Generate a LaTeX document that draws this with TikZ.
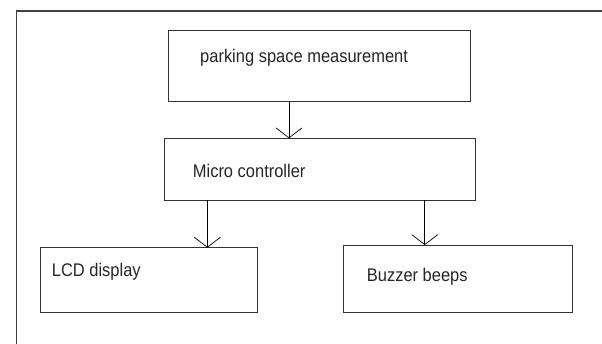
\documentclass[tikz,border=0pt]{standalone}
\usepackage{fontspec}
\setmainfont{Liberation Sans}[FakeStretch=0.9]
\usetikzlibrary{arrows.meta}
\begin{document}
\begin{tikzpicture}[x=1pt,y=-1pt,
  blk/.style={draw=black!80,line width=1pt,rectangle,inner sep=0pt,outer sep=0pt},
  lbl/.style={anchor=base west,inner sep=0pt,font=\fontsize{18.3}{21}\selectfont,text=black!85},
  arr/.style={draw=black,line width=0.9pt,-{Straight Barb[length=10pt,width=26pt,line width=0.7pt]}}]
\useasboundingbox (0,0) rectangle (602,343);
\fill[white] (0,0) rectangle (602,343);
\draw[black!75,line width=1.4pt] (16.7,345) -- (16.7,11) -- (604,11);

\node[blk,minimum width=302.4pt,minimum height=71pt] (top) at (319.5,65.5) {};
\node[blk,minimum width=310.7pt,minimum height=61.7pt] (micro) at (319.7,169.2) {};
\node[blk,minimum width=217pt,minimum height=64.6pt] (lcd) at (149.2,280) {};
\node[blk,minimum width=229pt,minimum height=67.3pt] (buz) at (458.2,278.7) {};

\node[lbl] (ttop) at (200,62) {parking space measurement};
\node[lbl] (tmicro) at (192.7,177) {Micro controller};
\node[lbl] (tlcd) at (51.7,276.7) {LCD display};
\node[lbl] (tbuz) at (366.7,281.7) {Buzzer beeps};

\coordinate (a1) at ([xshift=120.7pt]top.south west);
\coordinate (a2) at ([xshift=43pt]micro.south west);
\coordinate (a3) at ([xshift=260.4pt]micro.south west);
\draw[arr] (a1) -- (a1 |- micro.north);
\draw[arr] (a2) -- (a2 |- lcd.north);
\draw[arr] (a3) -- (a3 |- buz.north);
\end{tikzpicture}
\end{document}
